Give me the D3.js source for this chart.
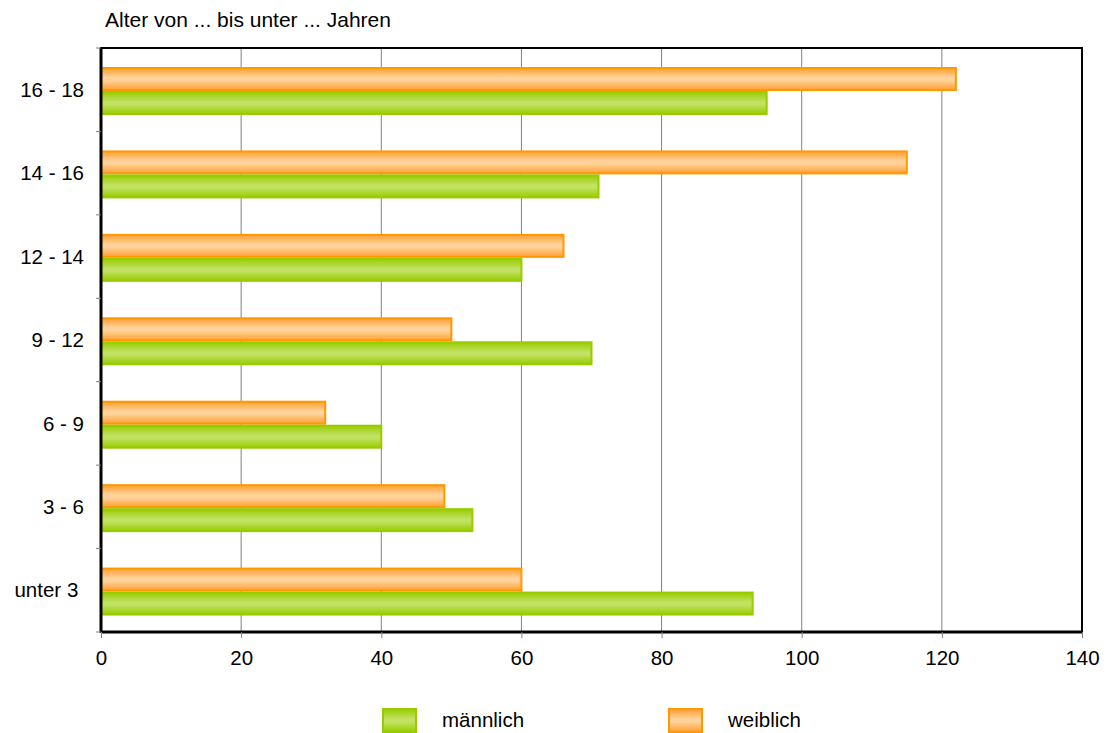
<!DOCTYPE html>
<html lang="de">
<head>
<meta charset="UTF-8" />
<script src="https://d3js.org/d3.v7.min.js"></script>
<title>Alter</title>
<style>
body { margin: 0; background: #fff; }
text { font-family: "Liberation Sans", Arial, sans-serif; fill: #000; white-space: pre; }
</style>
</head>
<body>
<script type="text/javascript">
var categories = ["16 - 18", "14 - 16", "12 - 14", "9 - 12", "6 - 9", "3 - 6", "unter 3 "];
var maennlich = [95, 71, 60, 70, 40, 53, 93];
var weiblich = [122, 115, 66, 50, 32, 49, 60];
var xTicks = [0, 20, 40, 60, 80, 100, 120, 140];
var seriesNames = ["männlich", "weiblich"];

var width = 1109, height = 733;
var pLeft = 101, pRight = 1082, pTop = 48, pBottom = 632;
var fs = 20.5;

var svg = d3.select("body").append("svg").attr("width", width).attr("height", height);

var defs = svg.append("defs");
function grad(id, edge, mid) {
  var g = defs.append("linearGradient").attr("id", id).attr("x1", 0).attr("y1", 0).attr("x2", 0).attr("y2", 1);
  g.append("stop").attr("offset", "0%").attr("stop-color", edge);
  g.append("stop").attr("offset", "45%").attr("stop-color", mid);
  g.append("stop").attr("offset", "55%").attr("stop-color", mid);
  g.append("stop").attr("offset", "100%").attr("stop-color", edge);
}
grad("gGreen", "#99cc00", "#c2e264");
grad("gOrange", "#ff9f33", "#ffd49c");

var x = d3.scaleLinear().domain([0, 140]).range([pLeft, pRight]);
var y = d3.scaleBand().domain(categories).range([pTop, pBottom]);
var inner = d3.scaleBand().domain(["w", "m"]).range([19, 67]);

// grid
svg.append("g").selectAll("line").data(xTicks.slice(1, -1)).enter().append("line")
  .attr("x1", function(d){ return x(d); }).attr("x2", function(d){ return x(d); })
  .attr("y1", pTop).attr("y2", pBottom)
  .attr("stroke", "#808080").attr("stroke-width", 1);

// bars
var rows = svg.append("g").selectAll("g").data(categories).enter().append("g")
  .attr("transform", function(d){ return "translate(0," + y(d) + ")"; });

rows.append("rect")
  .attr("x", x(0)).attr("y", inner("w") + 1)
  .attr("width", function(d, i){ return x(weiblich[i]) - x(0); })
  .attr("height", inner.bandwidth() - 2)
  .attr("fill", "url(#gOrange)").attr("stroke", "#ff9900").attr("stroke-width", 2);

rows.append("rect")
  .attr("x", x(0)).attr("y", inner("m") + 1)
  .attr("width", function(d, i){ return x(maennlich[i]) - x(0); })
  .attr("height", inner.bandwidth() - 2)
  .attr("fill", "url(#gGreen)").attr("stroke", "#99cc00").attr("stroke-width", 2);

// frame
svg.append("rect").attr("x", pLeft).attr("y", pTop).attr("width", pRight - pLeft).attr("height", pBottom - pTop)
  .attr("fill", "none").attr("stroke", "#000").attr("stroke-width", 2);
svg.append("line").attr("x1", pLeft).attr("x2", pLeft).attr("y1", pTop).attr("y2", pBottom + 1)
  .attr("stroke", "#000").attr("stroke-width", 3);
svg.append("line").attr("x1", pLeft).attr("x2", pRight).attr("y1", pBottom).attr("y2", pBottom)
  .attr("stroke", "#000").attr("stroke-width", 3);

// x axis
var xAxis = svg.append("g").attr("transform", "translate(0," + pBottom + ")")
  .call(d3.axisBottom(x).tickValues(xTicks).tickSize(6).tickPadding(12));
xAxis.select(".domain").remove();
xAxis.selectAll(".tick line").attr("stroke", "#808080");
xAxis.selectAll("text").attr("font-size", fs).attr("font-family", "Liberation Sans, Arial, sans-serif").attr("fill", "#000");

// y axis ticks at band edges
var edges = categories.map(function(d){ return y(d); }).concat([pBottom]);
svg.append("g").selectAll("line").data(edges).enter().append("line")
  .attr("x1", pLeft - 5).attr("x2", pLeft).attr("y1", function(d){ return d; }).attr("y2", function(d){ return d; })
  .attr("stroke", "#808080");
svg.append("g").selectAll("text").data(categories).enter().append("text")
  .attr("x", 84).attr("y", function(d){ return y(d) + y.bandwidth() / 2; })
  .attr("dy", "0.35em").attr("text-anchor", "end").attr("font-size", fs).text(function(d){ return d; });

// title
svg.append("text").attr("x", 105).attr("y", 27).attr("font-size", 21).text("Alter von ... bis unter ... Jahren");

// legend
var legend = svg.append("g").selectAll("g").data(seriesNames).enter().append("g")
  .attr("transform", function(d, i){ return "translate(" + (383 + i * 286) + ",709)"; });
legend.append("rect").attr("width", 33).attr("height", 23)
  .attr("fill", function(d, i){ return i ? "url(#gOrange)" : "url(#gGreen)"; })
  .attr("stroke", function(d, i){ return i ? "#ff9900" : "#99cc00"; }).attr("stroke-width", 2);
legend.append("text").attr("x", 59).attr("y", 18).attr("font-size", fs).text(function(d){ return d; });
</script>
</body>
</html>
